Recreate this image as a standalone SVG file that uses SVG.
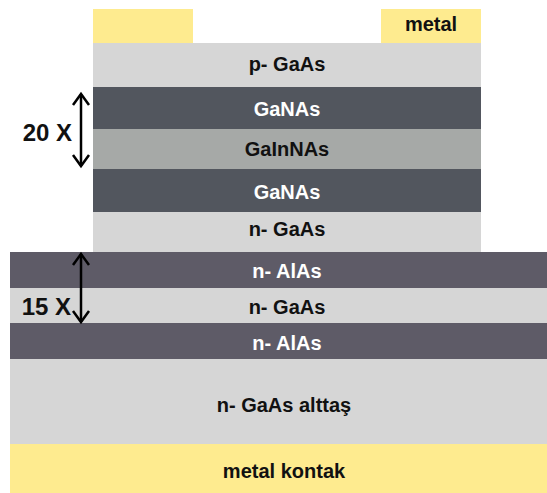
<svg xmlns="http://www.w3.org/2000/svg" width="547" height="493" viewBox="0 0 547 493">
<style>
.lbl{font-family:"Liberation Sans",Arial,Helvetica,sans-serif;font-weight:bold;font-size:20px;text-anchor:middle}
.dk{fill:#ffffff}
.lt{fill:#111111}
.rep{font-family:"Liberation Sans",Arial,Helvetica,sans-serif;font-weight:bold;font-size:24px;text-anchor:end;fill:#111111}
.gray{fill:#d6d6d6}
.ganas{fill:#52565e}
.gainnas{fill:#a6a9a7}
.alas{fill:#5e5b67}
.metal{fill:#feeb8f}
.arr{stroke:#000;stroke-width:2.5;fill:none}
</style>
<defs>
<marker id="head" markerUnits="userSpaceOnUse" markerWidth="24" markerHeight="24" refX="11" refY="8" orient="auto-start-reverse" overflow="visible">
<path d="M0,0 L11,8 L0,16" fill="none" stroke="#000" stroke-width="2.5" stroke-linejoin="miter"/>
</marker>
</defs>
<rect width="547" height="493" fill="#ffffff"/>
<g id="metal-left"><rect class="metal" x="93" y="9" width="100" height="34"/></g>
<g id="metal-right"><rect class="metal" x="381" y="9" width="100" height="34"/><text class="lbl lt" x="431" y="31">metal</text></g>
<g id="p-gaas"><rect class="gray" x="93" y="43" width="388" height="44"/><text class="lbl lt" x="287" y="71">p- GaAs</text></g>
<g id="ganas-1"><rect class="ganas" x="93" y="87" width="388" height="42"/><text class="lbl dk" x="287" y="116">GaNAs</text></g>
<g id="gainnas"><rect class="gainnas" x="93" y="129" width="388" height="40"/><text class="lbl lt" x="287" y="156">GaInNAs</text></g>
<g id="ganas-2"><rect class="ganas" x="93" y="169" width="388" height="43"/><text class="lbl dk" x="287" y="199">GaNAs</text></g>
<g id="n-gaas-top"><rect class="gray" x="93" y="212" width="388" height="40"/><text class="lbl lt" x="287" y="236">n- GaAs</text></g>
<g id="n-alas-1"><rect class="alas" x="10" y="252" width="537" height="36"/><text class="lbl dk" x="287" y="278">n- AlAs</text></g>
<g id="n-gaas-mid"><rect class="gray" x="10" y="288" width="537" height="35"/><text class="lbl lt" x="287" y="314">n- GaAs</text></g>
<g id="n-alas-2"><rect class="alas" x="10" y="323" width="537" height="36"/><text class="lbl dk" x="287" y="350">n- AlAs</text></g>
<g id="substrate"><rect class="gray" x="10" y="359" width="537" height="85"/><text class="lbl lt" x="284" y="412">n- GaAs alttaş</text></g>
<g id="metal-contact"><rect class="metal" x="10" y="444" width="537" height="49"/><text class="lbl lt" x="284" y="478">metal kontak</text></g>
<g id="rep-20"><text class="rep" x="72" y="141">20 X</text></g>
<g id="rep-15"><text class="rep" x="71" y="315">15 X</text></g>
<g id="connectors">
<line class="arr" x1="81" y1="94" x2="81" y2="166" marker-start="url(#head)" marker-end="url(#head)"/>
<line class="arr" x1="81" y1="254" x2="81" y2="322" marker-start="url(#head)" marker-end="url(#head)"/>
</g>
</svg>
